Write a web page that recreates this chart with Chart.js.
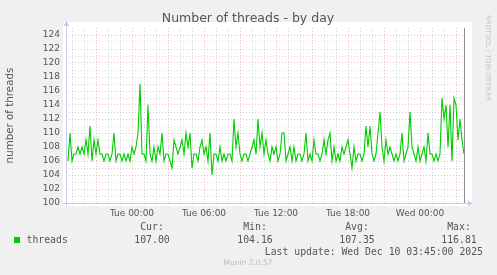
<!DOCTYPE html>
<html>
<head>
<meta charset="utf-8">
<script src="https://cdn.jsdelivr.net/npm/chart.js@4.4.1/dist/chart.umd.min.js"></script>
<style>
  html, body { margin: 0; padding: 0; background: #f0f0f0; }
  canvas { display: block; }
</style>
</head>
<body>
<canvas id="threadsChart" width="497" height="275"></canvas>
<script>
// threads, one sample every 10 minutes, from Mon 18:40 to Wed 03:40
const threads = [
  106,110,106,107,107,108,107,108,107,109,
  107,111,106,109,107,109,107,107,106,107,
  107,106,107,110,106,107,107,106,107,106,
  107,106,108,107,108,110,117,107,107,106,
  114,107,106,108,106,108,107,110,106,107,
  107,106,105,109,108,107,108,109,107,110,
  108,110,105,107,107,106,108,109,107,108,
  106,110,104,107,107,106,108,106,107,106,
  107,107,106,112,108,110,107,106,107,107,
  106,107,108,109,107,112,108,110,107,109,
  107,106,108,107,108,106,107,
  110,110,106,107,108,106,108,106,107,107,
  106,107,110,106,107,106,109,107,107,106,
  107,109,107,109,110,106,108,106,107,106,
  108,107,108,109,107,105,108,106,107,107,
  106,107,111,108,111,107,106,107,110,113,
  108,106,109,107,108,107,106,107,106,107,
  110,106,107,108,113,108,107,106,108,106,
  107,108,106,110,107,107,106,107,106,107,
  115,112,114,108,114,106,115,114,109,112,
  109,107
];
const startHour = -16 / 3;   // hours relative to Tue 00:00
const stepHour = 1 / 6;
const tickHours = [0, 6, 12, 18, 24];
const tickNames = ['Tue 00:00', 'Tue 06:00', 'Tue 12:00', 'Tue 18:00', 'Wed 00:00'];
const statNames = ['Cur:', 'Min:', 'Avg:', 'Max:'];
const statValues = ['107.00', '104.16', '107.35', '116.81'];

const points = threads.map((v, i) => ({ x: startHour + i * stepHour, y: v }));

const redGrid = 'rgba(230,110,110,0.45)';
const greyGrid = 'rgba(150,150,150,0.38)';

const munin = {
  id: 'munin',
  beforeDraw(chart) {
    const ctx = chart.ctx, a = chart.chartArea;
    ctx.save();
    ctx.fillStyle = '#f0f0f0';
    ctx.fillRect(0, 0, chart.width, chart.height);
    ctx.fillStyle = '#ffffff';
    ctx.fillRect(a.left - 3, a.top - 6, a.right - a.left + 10, a.bottom - a.top + 9);
    ctx.restore();
  },
  afterDraw(chart) {
    const ctx = chart.ctx, a = chart.chartArea;
    const xs = chart.scales.x;
    ctx.save();
    // axes
    ctx.strokeStyle = '#c8c8f0';
    ctx.fillStyle = '#c8c8f0';
    ctx.lineWidth = 1;
    ctx.beginPath();
    ctx.moveTo(a.left + 0.5, a.bottom + 3);
    ctx.lineTo(a.left + 0.5, a.top - 3);
    ctx.moveTo(a.left - 3, a.bottom + 0.5);
    ctx.lineTo(a.right + 4, a.bottom + 0.5);
    ctx.stroke();
    ctx.beginPath();
    ctx.moveTo(a.left - 2.5, a.top - 2);
    ctx.lineTo(a.left + 3.5, a.top - 2);
    ctx.lineTo(a.left + 0.5, a.top - 7);
    ctx.fill();
    ctx.beginPath();
    ctx.moveTo(a.right + 3, a.bottom - 2.5);
    ctx.lineTo(a.right + 3, a.bottom + 3.5);
    ctx.lineTo(a.right + 8, a.bottom + 0.5);
    ctx.fill();
    // end rule
    const xe = Math.round(xs.getPixelForValue(points[points.length - 1].x)) + 0.5;
    ctx.strokeStyle = '#8c8c8c';
    ctx.beginPath();
    ctx.moveTo(xe, a.top);
    ctx.lineTo(xe, a.bottom);
    ctx.stroke();

    // title
    ctx.fillStyle = '#555555';
    ctx.textBaseline = 'middle';
    ctx.textAlign = 'center';
    ctx.font = '12.5px "DejaVu Sans"';
    ctx.fillText('Number of threads - by day', 248, 19);
    // y title
    ctx.save();
    ctx.translate(10, (a.top + a.bottom) / 2);
    ctx.rotate(-Math.PI / 2);
    ctx.font = '10.3px "DejaVu Sans"';
    ctx.fillText('number of threads', 0, 0);
    ctx.restore();
    // watermark
    ctx.save();
    ctx.translate(488, 15);
    ctx.rotate(Math.PI / 2);
    ctx.textAlign = 'left';
    ctx.fillStyle = '#c4c4c4';
    ctx.font = '6.7px "DejaVu Sans"';
    ctx.fillText('RRDTOOL / TOBI OETIKER', 0, 0);
    ctx.restore();

    // legend
    ctx.fillStyle = '#00cc00';
    ctx.fillRect(14, 237, 6, 6);
    ctx.fillStyle = '#555555';
    ctx.font = '9.8px "DejaVu Sans Mono"';
    ctx.textAlign = 'left';
    ctx.fillText('threads', 26.5, 240);
    const centers = [152, 255, 357, 459];
    ctx.textAlign = 'center';
    statNames.forEach((n, i) => {
      ctx.fillText(n, centers[i], 227.5);
      ctx.fillText(statValues[i], centers[i], 240);
    });
    ctx.textAlign = 'right';
    ctx.fillText('Last update: Wed Dec 10 03:45:00 2025', 483, 252);
    ctx.textAlign = 'center';
    ctx.fillStyle = '#bdbdbd';
    ctx.font = '7.5px "DejaVu Sans"';
    ctx.fillText('Munin 2.0.57', 248, 263.5);
    ctx.restore();
  }
};

new Chart(document.getElementById('threadsChart'), {
  type: 'line',
  data: {
    datasets: [{
      label: 'threads',
      data: points,
      borderColor: '#00cc00',
      borderWidth: 1.1,
      pointRadius: 0,
      tension: 0,
      fill: false
    }]
  },
  options: {
    responsive: false,
    animation: false,
    layout: { padding: { top: 28, right: 32, left: 0, bottom: 0 } },
    plugins: { legend: { display: false }, tooltip: { enabled: false } },
    scales: {
      x: {
        type: 'linear',
        min: -5.5,
        max: 27.75,
        afterBuildTicks(scale) {
          const t = [];
          for (let h = -5; h <= 27; h++) t.push({ value: h });
          scale.ticks = t;
        },
        afterFit(scale) { scale.height = 72; },
        ticks: {
          autoSkip: false,
          maxRotation: 0,
          padding: 5,
          color: '#555555',
          font: { family: 'DejaVu Sans', size: 9 },
          callback(v) {
            const i = tickHours.indexOf(v);
            return i >= 0 ? tickNames[i] : '';
          }
        },
        grid: {
          drawTicks: false,
          color: c => (c.tick && c.tick.value % 3 === 0) ? redGrid : greyGrid,
          lineWidth: 1
        },
        border: { display: false, dash: [1, 2] }
      },
      y: {
        min: 100,
        max: 125,
        afterFit(scale) { scale.width = 66; },
        ticks: {
          stepSize: 1,
          autoSkip: false,
          padding: 6,
          color: '#555555',
          font: { family: 'DejaVu Sans', size: 9 },
          callback: v => (v % 2 === 0 ? String(v) : '')
        },
        grid: {
          drawTicks: false,
          color: c => {
            const v = c.tick ? c.tick.value : 0;
            if (v === 125 || v === 100) return 'rgba(0,0,0,0)';
            return v % 2 === 0 ? redGrid : greyGrid;
          },
          lineWidth: 1
        },
        border: { display: false, dash: [1, 2] }
      }
    }
  },
  plugins: [munin]
});
</script>
</body>
</html>
